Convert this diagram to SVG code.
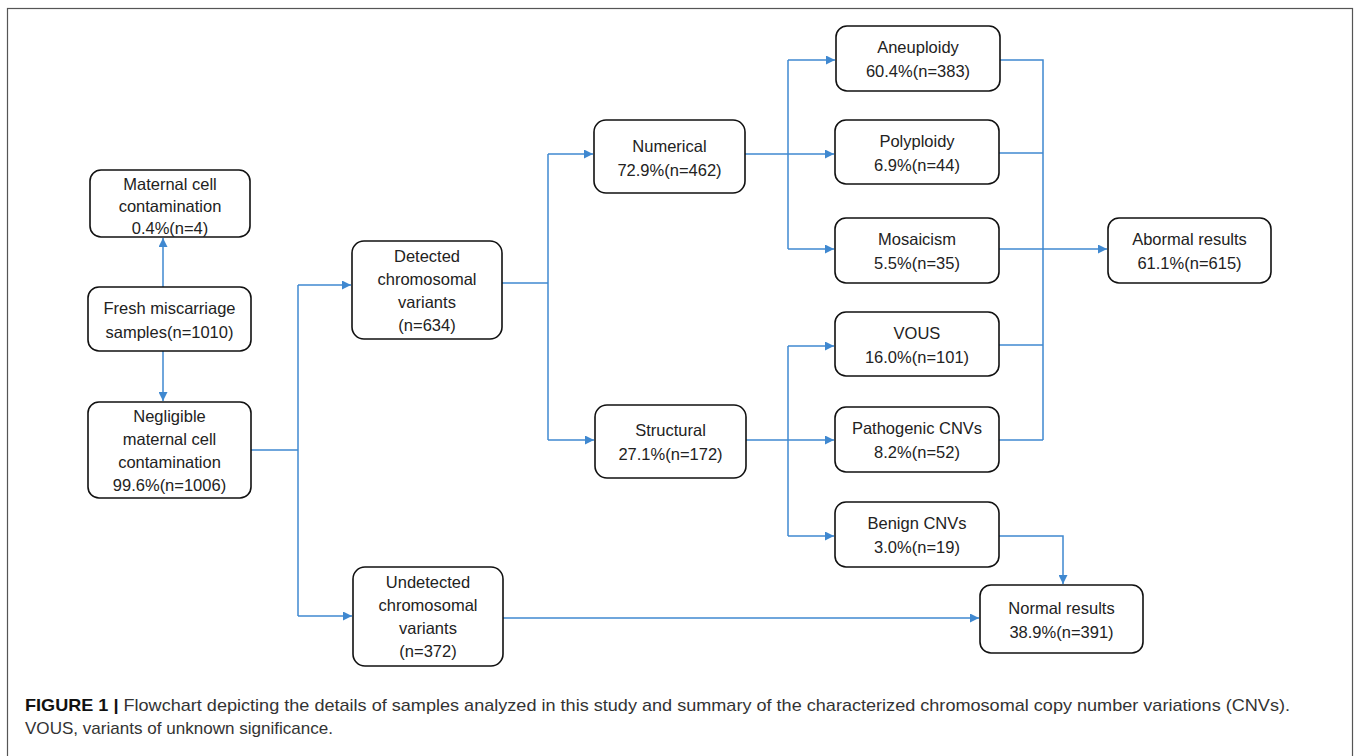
<svg xmlns="http://www.w3.org/2000/svg" width="1358" height="756" viewBox="0 0 1358 756">
<style>
.box{fill:#fff;stroke:#111;stroke-width:1.6}
.t{font-family:"Liberation Sans",Arial,sans-serif;font-size:16.5px;fill:#222;text-anchor:middle}
.c{fill:none;stroke:#3f88d0;stroke-width:1.5}
.cap{font-family:"Liberation Sans",Arial,sans-serif;font-size:17px;fill:#333}
</style>
<defs>
<marker id="ah" viewBox="0 0 10 10" refX="10" refY="5" markerWidth="9" markerHeight="9" markerUnits="userSpaceOnUse" orient="auto">
<path d="M0,0 L10,5 L0,10 z" fill="#3f88d0"/>
</marker>
</defs>
<rect x="7.5" y="8.5" width="1345" height="760" fill="none" stroke="#555" stroke-width="1.2"/>
<g id="connectors">
<path class="c" d="M163,287 V238" marker-end="url(#ah)"/>
<path class="c" d="M163,351 V401" marker-end="url(#ah)"/>
<path class="c" d="M251,450 H298"/>
<path class="c" d="M298,285 V616"/>
<path class="c" d="M298,285 H351" marker-end="url(#ah)"/>
<path class="c" d="M298,616 H352" marker-end="url(#ah)"/>
<path class="c" d="M502,283 H548"/>
<path class="c" d="M548,154 V440"/>
<path class="c" d="M548,154 H593" marker-end="url(#ah)"/>
<path class="c" d="M548,440 H594" marker-end="url(#ah)"/>
<path class="c" d="M745,154 H788"/>
<path class="c" d="M788,60 V249"/>
<path class="c" d="M788,60 H835" marker-end="url(#ah)"/>
<path class="c" d="M788,154 H834" marker-end="url(#ah)"/>
<path class="c" d="M788,249 H834" marker-end="url(#ah)"/>
<path class="c" d="M746,440 H788"/>
<path class="c" d="M788,346 V536"/>
<path class="c" d="M788,346 H834" marker-end="url(#ah)"/>
<path class="c" d="M788,440 H834" marker-end="url(#ah)"/>
<path class="c" d="M788,536 H834" marker-end="url(#ah)"/>
<path class="c" d="M1000,60 H1043 V440"/>
<path class="c" d="M999,153 H1043"/>
<path class="c" d="M999,345 H1043"/>
<path class="c" d="M999,440 H1043"/>
<path class="c" d="M999,249 H1107" marker-end="url(#ah)"/>
<path class="c" d="M999,536 H1063 V584" marker-end="url(#ah)"/>
<path class="c" d="M503,618 H979" marker-end="url(#ah)"/>
</g>
<g id="maternal">
<rect class="box" x="90" y="170" width="160" height="67" rx="11"/>
<text class="t" x="170" y="190">Maternal cell</text>
<text class="t" x="170" y="212">contamination</text>
<text class="t" x="170" y="234">0.4%(n=4)</text>
</g>
<g id="fresh">
<rect class="box" x="88" y="287" width="163" height="64" rx="11"/>
<text class="t" x="169.5" y="314">Fresh miscarriage</text>
<text class="t" x="169.5" y="338">samples(n=1010)</text>
</g>
<g id="negligible">
<rect class="box" x="88" y="402" width="163" height="96" rx="11"/>
<text class="t" x="169.5" y="422">Negligible</text>
<text class="t" x="169.5" y="445">maternal cell</text>
<text class="t" x="169.5" y="468">contamination</text>
<text class="t" x="169.5" y="491">99.6%(n=1006)</text>
</g>
<g id="detected">
<rect class="box" x="352" y="241" width="150" height="98" rx="12"/>
<text class="t" x="427" y="262">Detected</text>
<text class="t" x="427" y="285">chromosomal</text>
<text class="t" x="427" y="308">variants</text>
<text class="t" x="427" y="331">(n=634)</text>
</g>
<g id="undetected">
<rect class="box" x="353" y="567" width="150" height="99" rx="12"/>
<text class="t" x="428" y="588">Undetected</text>
<text class="t" x="428" y="611">chromosomal</text>
<text class="t" x="428" y="634">variants</text>
<text class="t" x="428" y="657">(n=372)</text>
</g>
<g id="numerical">
<rect class="box" x="594" y="120" width="151" height="73" rx="12"/>
<text class="t" x="669.5" y="152">Numerical</text>
<text class="t" x="669.5" y="176">72.9%(n=462)</text>
</g>
<g id="structural">
<rect class="box" x="595" y="405" width="151" height="73" rx="12"/>
<text class="t" x="670.5" y="436">Structural</text>
<text class="t" x="670.5" y="460">27.1%(n=172)</text>
</g>
<g id="aneuploidy">
<rect class="box" x="836" y="26" width="164" height="65" rx="11"/>
<text class="t" x="918" y="53">Aneuploidy</text>
<text class="t" x="918" y="77">60.4%(n=383)</text>
</g>
<g id="polyploidy">
<rect class="box" x="835" y="120" width="164" height="64" rx="11"/>
<text class="t" x="917" y="147">Polyploidy</text>
<text class="t" x="917" y="171">6.9%(n=44)</text>
</g>
<g id="mosaicism">
<rect class="box" x="835" y="218" width="164" height="65" rx="11"/>
<text class="t" x="917" y="245">Mosaicism</text>
<text class="t" x="917" y="269">5.5%(n=35)</text>
</g>
<g id="vous">
<rect class="box" x="835" y="312" width="164" height="64" rx="11"/>
<text class="t" x="917" y="339">VOUS</text>
<text class="t" x="917" y="363">16.0%(n=101)</text>
</g>
<g id="pathogenic">
<rect class="box" x="835" y="407" width="164" height="65" rx="11"/>
<text class="t" x="917" y="434">Pathogenic CNVs</text>
<text class="t" x="917" y="458">8.2%(n=52)</text>
</g>
<g id="benign">
<rect class="box" x="835" y="502" width="164" height="65" rx="11"/>
<text class="t" x="917" y="529">Benign CNVs</text>
<text class="t" x="917" y="553">3.0%(n=19)</text>
</g>
<g id="abnormal">
<rect class="box" x="1108" y="218" width="163" height="65" rx="11"/>
<text class="t" x="1189.5" y="245">Abormal results</text>
<text class="t" x="1189.5" y="269">61.1%(n=615)</text>
</g>
<g id="normal">
<rect class="box" x="980" y="585" width="163" height="68" rx="11"/>
<text class="t" x="1061.5" y="614">Normal results</text>
<text class="t" x="1061.5" y="638">38.9%(n=391)</text>
</g>
<g id="caption">
<text class="cap" x="25" y="711" textLength="1265" lengthAdjust="spacingAndGlyphs"><tspan font-weight="bold" fill="#111">FIGURE 1 | </tspan>Flowchart depicting the details of samples analyzed in this study and summary of the characterized chromosomal copy number variations (CNVs).</text>
<text class="cap" x="25" y="734" textLength="308" lengthAdjust="spacingAndGlyphs">VOUS, variants of unknown significance.</text>
</g>
</svg>
